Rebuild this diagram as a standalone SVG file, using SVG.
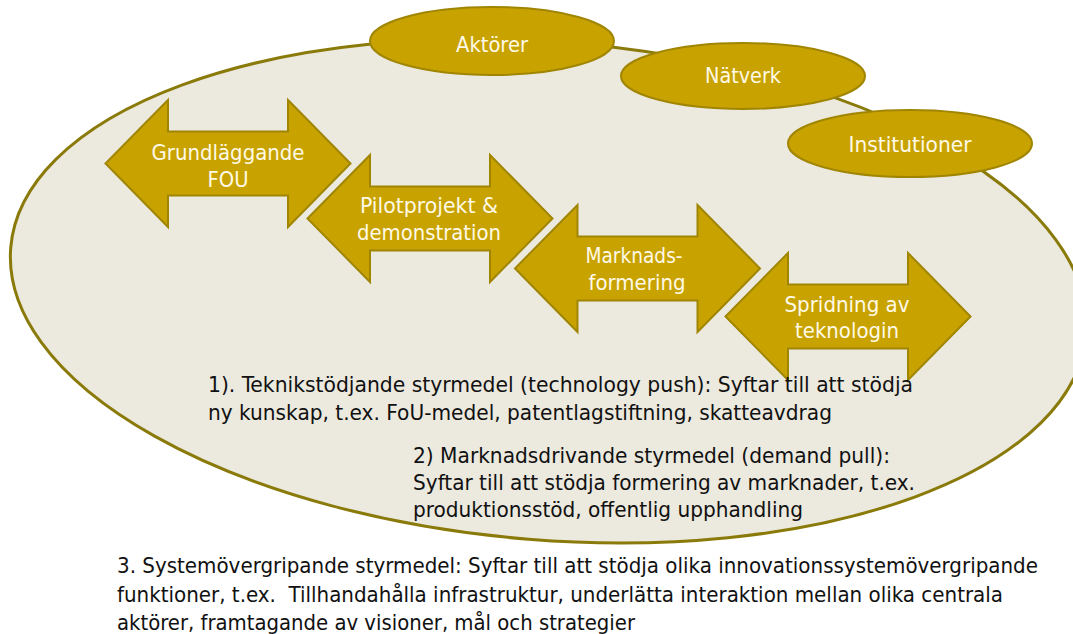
<svg xmlns="http://www.w3.org/2000/svg" width="1073" height="634" viewBox="0 0 1073 634">
<defs>
<style>
.bg{fill:#ECE9DF;stroke:#8A7A0A;stroke-width:3}
.gold{fill:#C8A300;stroke:#A08500;stroke-width:2}
.lbl{font-family:"DejaVu Sans Condensed","DejaVu Sans",sans-serif;font-size:21px;fill:#FFF9E6;text-anchor:middle}
.body{font-family:"DejaVu Sans Condensed","DejaVu Sans",sans-serif;font-size:21px;fill:#111111}
</style>
<path id="dbl" d="M-122.5,0 L-60,-63.5 L-60,-32 L60,-32 L60,-63.5 L122.5,0 L60,63.5 L60,32 L-60,32 L-60,63.5 Z"/>
</defs>
<rect width="1073" height="634" fill="#FFFFFF"/>
<g id="system">
<ellipse class="bg" cx="548.5" cy="291" rx="539.5" ry="249" transform="rotate(4.6 548.5 291)"/>
</g>
<g id="aktorer">
<ellipse class="gold" cx="492" cy="41" rx="122" ry="34"/>
<text class="lbl" x="492" y="52" textLength="72" lengthAdjust="spacingAndGlyphs">Aktörer</text>
</g>
<g id="natverk">
<ellipse class="gold" cx="743" cy="76" rx="122" ry="33"/>
<text class="lbl" x="743" y="83" textLength="76" lengthAdjust="spacingAndGlyphs">Nätverk</text>
</g>
<g id="institutioner">
<ellipse class="gold" cx="910" cy="143.5" rx="122" ry="33.5"/>
<text class="lbl" x="910" y="152" textLength="123" lengthAdjust="spacingAndGlyphs">Institutioner</text>
</g>
<g id="grundlaggande">
<use href="#dbl" class="gold" transform="translate(228 163.5)"/>
<text class="lbl" x="228" y="160" textLength="153" lengthAdjust="spacingAndGlyphs">Grundläggande</text>
<text class="lbl" x="228" y="187" textLength="41" lengthAdjust="spacingAndGlyphs">FOU</text>
</g>
<g id="pilotprojekt">
<use href="#dbl" class="gold" transform="translate(430 218.5)"/>
<text class="lbl" x="429" y="213" textLength="138" lengthAdjust="spacingAndGlyphs">Pilotprojekt &amp;</text>
<text class="lbl" x="429" y="240" textLength="144" lengthAdjust="spacingAndGlyphs">demonstration</text>
</g>
<g id="marknadsformering">
<use href="#dbl" class="gold" transform="translate(637.5 268.5)"/>
<text class="lbl" x="634" y="263" textLength="97" lengthAdjust="spacingAndGlyphs">Marknads-</text>
<text class="lbl" x="637" y="290" textLength="97" lengthAdjust="spacingAndGlyphs">formering</text>
</g>
<g id="spridning">
<use href="#dbl" class="gold" transform="translate(848 316.5)"/>
<text class="lbl" x="847" y="312" textLength="125" lengthAdjust="spacingAndGlyphs">Spridning av</text>
<text class="lbl" x="847" y="338" textLength="104" lengthAdjust="spacingAndGlyphs">teknologin</text>
</g>
<g id="connectors"></g>
<g id="text1">
<text class="body" x="208" y="392" textLength="705" lengthAdjust="spacingAndGlyphs">1). Teknikstödjande styrmedel (technology push): Syftar till att stödja</text>
<text class="body" x="208" y="420" textLength="624" lengthAdjust="spacingAndGlyphs">ny kunskap, t.ex. FoU-medel, patentlagstiftning, skatteavdrag</text>
</g>
<g id="text2">
<text class="body" x="413" y="463" textLength="477" lengthAdjust="spacingAndGlyphs">2) Marknadsdrivande styrmedel (demand pull):</text>
<text class="body" x="413" y="490" textLength="502" lengthAdjust="spacingAndGlyphs">Syftar till att stödja formering av marknader, t.ex.</text>
<text class="body" x="413" y="517" textLength="390" lengthAdjust="spacingAndGlyphs">produktionsstöd, offentlig upphandling</text>
</g>
<g id="text3">
<text class="body" x="117" y="573" textLength="921" lengthAdjust="spacingAndGlyphs">3. Systemövergripande styrmedel: Syftar till att stödja olika innovationssystemövergripande</text>
<text class="body" x="117" y="602" textLength="886" lengthAdjust="spacingAndGlyphs" xml:space="preserve">funktioner, t.ex.  Tillhandahålla infrastruktur, underlätta interaktion mellan olika centrala</text>
<text class="body" x="117" y="630" textLength="518" lengthAdjust="spacingAndGlyphs">aktörer, framtagande av visioner, mål och strategier</text>
</g>
</svg>
